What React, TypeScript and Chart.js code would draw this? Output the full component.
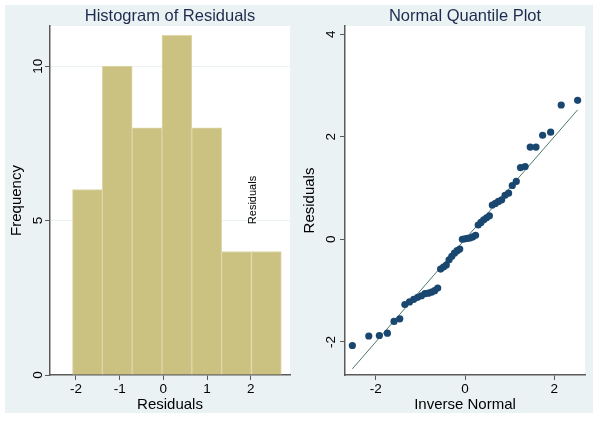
import React, { useEffect, useRef } from "react";
import { Chart, registerables } from "chart.js";

Chart.register(...registerables);

const FONT = "'Liberation Sans', Arial, Helvetica, sans-serif";
Chart.defaults.font.family = FONT;

// ---------- Histogram data ----------
const binEdges = [-2.08, -1.397, -0.714, -0.031, 0.652, 1.335, 2.018, 2.701];
const binCounts = [6, 10, 8, 11, 8, 4, 4];
const histXTicks = [-2, -1, 0, 1, 2];
const histYTicks = [0, 5, 10];

// ---------- Normal quantile data ----------
const qqX = [
  -2.525, -2.157, -1.92, -1.74, -1.591, -1.462, -1.348, -1.244, -1.149, -1.06,
  -0.977, -0.898, -0.822, -0.75, -0.681, -0.612, -0.547, -0.483, -0.42, -0.357,
  -0.296, -0.237, -0.177, -0.118, -0.059, 0, 0.059, 0.118, 0.177, 0.237,
  0.296, 0.357, 0.42, 0.483, 0.547, 0.612, 0.681, 0.75, 0.822, 0.898,
  0.977, 1.06, 1.149, 1.244, 1.348, 1.462, 1.591, 1.74, 1.92, 2.157, 2.525,
];
const qqY = [
  -2.07, -1.885, -1.875, -1.83, -1.6, -1.55, -1.27, -1.22, -1.17, -1.13,
  -1.1, -1.06, -1.05, -1.03, -1.0, -0.95, -0.58, -0.54, -0.5, -0.4,
  -0.33, -0.27, -0.22, -0.19, 0.0, 0.01, 0.02, 0.03, 0.05, 0.08,
  0.28, 0.33, 0.38, 0.42, 0.46, 0.67, 0.7, 0.74, 0.77, 0.86,
  0.9, 1.05, 1.13, 1.4, 1.42, 1.8, 1.8, 2.03, 2.09, 2.62, 2.71,
];
const refLineX = [-2.525, 2.525];
const refLineY = [-2.525, 2.525];
const qqXTicks = [-2, 0, 2];
const qqYTicks = [-2, 0, 2, 4];

const TITLE_COLOR = "#1E2B4E";
const AXIS_COLOR = "#5A5A5A";
const BG = "#EAF2F3";

type TextCfg = {
  title: string;
  yTitle: string;
  yTicks: number[];
  yTickX: number;
  yTitleX: number;
  extra?: { text: string; x: number; y: number };
};

function makeTextPlugin(cfg: TextCfg) {
  return {
    id: "stataText",
    beforeDraw(chart: any) {
      const { ctx, chartArea: a } = chart;
      ctx.save();
      ctx.fillStyle = "#ffffff";
      ctx.fillRect(a.left, a.top, a.right - a.left, a.bottom - a.top);
      ctx.restore();
    },
    afterDraw(chart: any) {
      const { ctx, chartArea: a } = chart;
      const ys = chart.scales.y;
      ctx.save();
      ctx.textAlign = "center";
      ctx.textBaseline = "middle";
      ctx.fillStyle = TITLE_COLOR;
      ctx.font = `16.5px ${FONT}`;
      ctx.fillText(cfg.title, (a.left + a.right) / 2, 16);
      ctx.fillStyle = "#000000";
      ctx.font = `13.5px ${FONT}`;
      for (const v of cfg.yTicks) {
        const y = ys.getPixelForValue(v);
        ctx.save();
        ctx.translate(cfg.yTickX, y);
        ctx.rotate(-Math.PI / 2);
        ctx.fillText(String(v), 0, 0);
        ctx.restore();
      }
      ctx.font = `15px ${FONT}`;
      ctx.save();
      ctx.translate(cfg.yTitleX, (a.top + a.bottom) / 2);
      ctx.rotate(-Math.PI / 2);
      ctx.fillText(cfg.yTitle, 0, 0);
      ctx.restore();
      if (cfg.extra) {
        ctx.font = `11px ${FONT}`;
        ctx.save();
        ctx.translate(cfg.extra.x, cfg.extra.y);
        ctx.rotate(-Math.PI / 2);
        ctx.fillText(cfg.extra.text, 0, 0);
        ctx.restore();
      }
      ctx.restore();
    },
  };
}

function xAxis(min: number, max: number, ticks: number[], title: string) {
  return {
    type: "linear" as const,
    min,
    max,
    offset: false,
    afterBuildTicks: (s: any) => {
      s.ticks = ticks.map((v) => ({ value: v }));
    },
    afterFit: (s: any) => {
      s.height = 46;
    },
    grid: {
      offset: false,
      drawOnChartArea: false,
      drawTicks: true,
      tickLength: 5,
      tickColor: AXIS_COLOR,
      tickWidth: 1,
    },
    border: { display: true, color: AXIS_COLOR, width: 1.5 },
    ticks: {
      color: "#000000",
      font: { size: 13.5, family: FONT },
      padding: 1,
      maxRotation: 0,
      minRotation: 0,
      autoSkip: false,
      includeBounds: false,
    },
    title: {
      display: true,
      text: title,
      color: "#000000",
      font: { size: 15, family: FONT },
      padding: { top: 0, bottom: 7 },
    },
  };
}

function yAxis(min: number, max: number, ticks: number[], width: number, gridColor: string) {
  return {
    type: "linear" as const,
    min,
    max,
    afterBuildTicks: (s: any) => {
      s.ticks = ticks.map((v) => ({ value: v }));
    },
    afterFit: (s: any) => {
      s.width = width;
    },
    grid: {
      drawOnChartArea: true,
      color: (c: any) => (c.tick && c.tick.value === min ? "rgba(0,0,0,0)" : gridColor),
      drawTicks: true,
      tickLength: 5,
      tickColor: AXIS_COLOR,
      tickWidth: 1,
      lineWidth: 1,
    },
    border: { display: true, color: AXIS_COLOR, width: 1.5 },
    ticks: { display: false, includeBounds: false },
    title: { display: false },
  };
}

function HistChart() {
  const ref = useRef<HTMLCanvasElement | null>(null);
  useEffect(() => {
    if (!ref.current) return;
    const data = binCounts.map((c, i) => ({
      x: (binEdges[i] + binEdges[i + 1]) / 2,
      y: c,
    }));
    const chart = new Chart(ref.current, {
      type: "bar",
      data: {
        datasets: [
          {
            data: data as any,
            backgroundColor: "#CBC281",
            borderColor: "#DDD7A9",
            borderWidth: 1,
            borderSkipped: "bottom",
            barPercentage: 1,
            categoryPercentage: 1,
          },
        ],
      },
      options: {
        animation: false,
        responsive: false,
        events: [],
        layout: { padding: { top: 26, left: 0, right: 10, bottom: 0 } },
        plugins: {
          legend: { display: false },
          tooltip: { enabled: false },
          title: { display: false },
        },
        scales: {
          x: xAxis(-2.595, 2.9, histXTicks, "Residuals") as any,
          y: yAxis(0, 11.3, histYTicks, 50, BG) as any,
        },
      },
      plugins: [
        makeTextPlugin({
          title: "Histogram of Residuals",
          yTitle: "Frequency",
          yTicks: histYTicks,
          yTickX: 38,
          yTitleX: 17,
          extra: { text: "Residuals", x: 253, y: 200 },
        }),
      ],
    });
    return () => chart.destroy();
  }, []);
  return (
    <canvas
      ref={ref}
      width={300}
      height={421}
      style={{ position: "absolute", left: 0, top: 0, width: 300, height: 421 }}
    />
  );
}

function QQChart() {
  const ref = useRef<HTMLCanvasElement | null>(null);
  useEffect(() => {
    if (!ref.current) return;
    const chart = new Chart(ref.current, {
      type: "scatter",
      data: {
        datasets: [
          {
            data: qqX.map((x, i) => ({ x, y: qqY[i] })),
            pointRadius: 3.6,
            pointBackgroundColor: "#1A476F",
            pointBorderWidth: 0,
            pointBorderColor: "#1A476F",
            showLine: false,
          },
          {
            data: refLineX.map((x, i) => ({ x, y: refLineY[i] })),
            showLine: true,
            pointRadius: 0,
            borderColor: "#4D7A68",
            borderWidth: 1,
            fill: false,
          },
        ],
      },
      options: {
        animation: false,
        responsive: false,
        events: [],
        layout: { padding: { top: 26, left: 0, right: 18, bottom: 0 } },
        plugins: {
          legend: { display: false },
          tooltip: { enabled: false },
          title: { display: false },
        },
        scales: {
          x: xAxis(-2.69, 2.69, qqXTicks, "Inverse Normal") as any,
          y: yAxis(-2.645, 4.16, qqYTicks, 45, "rgba(0,0,0,0)") as any,
        },
      },
      plugins: [
        makeTextPlugin({
          title: "Normal Quantile Plot",
          yTitle: "Residuals",
          yTicks: qqYTicks,
          yTickX: 31,
          yTitleX: 10,
        }),
      ],
    });
    return () => chart.destroy();
  }, []);
  return (
    <canvas
      ref={ref}
      width={303}
      height={421}
      style={{ position: "absolute", left: 300, top: 0, width: 303, height: 421 }}
    />
  );
}

export default function App() {
  return (
    <div
      style={{
        position: "absolute",
        left: 0,
        top: 0,
        width: 603,
        height: 421,
        background: "#ffffff",
        overflow: "hidden",
      }}
    >
      <div
        style={{
          position: "absolute",
          left: 5,
          top: 5,
          width: 588,
          height: 408,
          background: BG,
        }}
      />
      <HistChart />
      <QQChart />
    </div>
  );
}
